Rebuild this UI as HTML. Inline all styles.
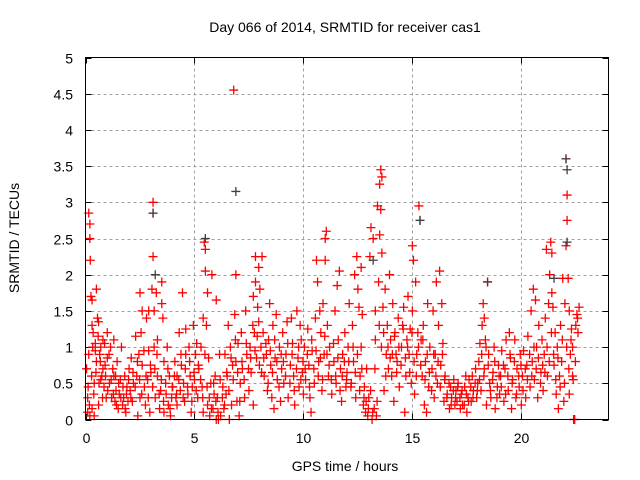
<!DOCTYPE html>
<html><head><meta charset="utf-8"><style>
body{margin:0;background:#fff}
svg{display:block}
text{font-family:"Liberation Sans",sans-serif;font-size:14px;fill:#000}
</style></head><body>
<svg id="chart" width="640" height="480" viewBox="0 0 640 480" xmlns="http://www.w3.org/2000/svg">
<rect width="640" height="480" fill="#fff"/>
<g id="grid"></g>
<g id="ticks"></g>
<g id="marks"></g>
<rect x="85.5" y="57.5" width="523" height="362" fill="none" stroke="#000" stroke-width="1"/>
<text x="345" y="32" text-anchor="middle">Day 066 of 2014, SRMTID for receiver cas1</text>
<text x="345" y="471" text-anchor="middle">GPS time / hours</text>
<text x="19" y="238" text-anchor="middle" transform="rotate(-90 19 238)">SRMTID / TECUs</text>
</svg>
<script>
const xTicks=[0,5,10,15,20];
const yTicks=[0,0.5,1,1.5,2,2.5,3,3.5,4,4.5,5];
const yTickLabels=["0","0.5","1","1.5","2","2.5","3","3.5","4","4.5","5"];
const redT=[0.05,0.1,0.1,0.15,0.15,0.2,0.2,0.22,0.25,0.3,0.3,0.35,0.4,0.4,0.45,0.5,0.5,0.55,0.6,0.6,0.65,0.7,0.75,0.8,0.85,0.9,0.95,1.0,1.0,0.3,0.2,0.45,0.7,0.8,
1.1,1.15,1.2,1.25,1.3,1.35,1.4,1.45,1.5,1.55,1.6,1.7,1.75,1.8,1.85,1.9,1.95,2.0,1.65,1.3,
2.05,2.1,2.15,2.2,2.3,2.35,2.4,2.45,2.5,2.55,2.6,2.7,2.75,2.8,2.85,2.9,2.95,2.5,2.6,2.9,
3.0,3.05,3.1,3.1,3.1,3.15,3.15,3.2,3.25,3.3,3.3,3.4,3.45,3.5,3.55,3.6,3.6,3.7,3.75,3.8,3.85,3.9,3.95,3.5,
4.0,4.1,4.15,4.2,4.3,4.35,4.4,4.45,4.5,4.55,4.6,4.7,4.75,4.8,4.85,4.9,4.95,4.6,4.2,
5.0,5.05,5.1,5.15,5.2,5.3,5.35,5.4,5.45,5.5,5.5,5.55,5.6,5.65,5.7,5.75,5.8,5.85,5.9,6.0,6.0,5.6,5.4,5.95,
6.05,6.1,6.15,6.2,6.3,6.35,6.4,6.5,6.55,6.6,6.65,6.7,6.75,6.8,6.85,6.9,6.95,7.0,6.9,6.45,
7.05,7.1,7.15,7.2,7.3,7.35,7.4,7.5,7.55,7.6,7.7,7.75,7.8,7.8,7.85,7.9,7.95,8.0,7.95,7.7,
8.05,8.1,8.15,8.2,8.3,8.35,8.4,8.5,8.55,8.6,8.7,8.75,8.8,8.9,8.95,9.0,8.45,8.65,
9.05,9.1,9.2,9.25,9.3,9.4,9.5,9.55,9.6,9.7,9.75,9.8,9.9,9.95,10.0,9.45,9.85,
10.05,10.1,10.2,10.25,10.3,10.4,10.5,10.55,10.6,10.65,10.7,10.8,10.85,10.9,10.95,11.0,11.05,11.0,10.75,10.35,
11.1,11.15,11.2,11.3,11.4,11.45,11.5,11.6,11.7,11.75,11.8,11.9,11.95,12.0,11.55,11.65,
12.05,12.1,12.2,12.25,12.3,12.35,12.4,12.5,12.55,12.6,12.65,12.7,12.75,12.8,12.85,12.9,12.95,13.0,12.45,12.65,
13.05,13.1,13.15,13.2,13.25,13.3,13.35,13.4,13.45,13.5,13.55,13.6,13.55,13.6,13.65,13.7,13.75,13.8,13.85,13.9,13.95,14.0,13.3,13.5,
14.05,14.1,14.15,14.2,14.3,14.35,14.4,14.5,14.55,14.6,14.7,14.75,14.8,14.85,14.9,14.95,15.0,15.0,15.05,14.65,14.25,
15.1,15.15,15.2,15.3,15.35,15.4,15.45,15.5,15.55,15.6,15.7,15.75,15.8,15.9,15.95,16.0,15.25,15.65,
16.05,16.1,16.15,16.2,16.25,16.3,16.4,16.45,16.5,16.6,16.7,16.75,16.8,16.9,16.95,17.0,16.35,
17.05,17.1,17.2,17.25,17.3,17.4,17.5,17.55,17.6,17.7,17.75,17.8,17.9,17.95,18.0,17.45,
18.05,18.1,18.15,18.2,18.25,18.3,18.35,18.4,18.5,18.55,18.6,18.7,18.75,18.8,18.9,18.95,19.0,18.45,18.3,
19.05,19.1,19.2,19.25,19.3,19.4,19.5,19.55,19.6,19.7,19.75,19.8,19.9,19.95,20.0,19.45,
20.05,20.1,20.2,20.25,20.3,20.4,20.45,20.5,20.55,20.6,20.7,20.75,20.8,20.9,20.95,21.0,20.65,
21.05,21.1,21.15,21.2,21.25,21.3,21.35,21.4,21.45,21.5,21.55,21.6,21.65,21.7,21.75,21.8,21.85,21.9,21.95,22.0,21.4,
22.05,22.1,22.1,22.05,22.15,22.2,22.25,22.3,22.35,22.4,22.45,22.5,22.55,22.6,22.65,22.35,22.2];
const redV=[0.7,0.1,0.3,0.9,2.85,2.7,2.5,2.2,1.7,1.65,1.3,1.2,0.05,0.5,1.05,0.8,1.8,1.4,1.35,0.2,0.9,1.0,0.6,1.1,0.45,0.75,0.3,1.2,0.85,0.15,0.05,0.95,0.55,0.7,
0.5,1.0,0.3,0.7,1.1,0.25,0.4,0.8,0.15,0.35,0.55,0.2,0.3,0.6,0.1,0.45,0.25,0.7,1.0,0.6,
0.4,0.85,0.25,0.5,1.15,0.6,0.05,0.9,0.3,1.2,0.75,0.45,0.2,1.4,0.55,0.95,0.1,1.75,1.5,1.5,
0.65,1.8,3.0,2.85,2.25,1.5,1.0,0.3,1.75,1.1,0.6,0.15,0.4,1.9,1.4,0.8,0.1,0.35,1.0,0.2,0.6,0.05,0.3,1.6,
0.45,0.8,0.3,0.6,1.2,0.4,0.75,1.75,0.5,0.25,0.9,0.35,1.0,0.6,0.1,0.45,1.3,1.25,0.2,
0.55,0.9,1.05,0.3,0.7,1.0,0.45,1.4,2.45,2.35,2.05,1.3,0.2,0.85,0.05,0.5,2.0,0.15,0.35,0.0,1.65,1.75,0.1,0.6,
0.3,0.0,0.9,0.05,0.45,0.15,0.9,0.6,1.3,0.0,1.0,0.2,0.75,4.55,1.45,0.8,0.25,1.05,2.0,0.35,
0.05,0.5,1.2,0.7,0.3,1.5,0.9,0.4,1.0,0.65,1.7,1.2,2.25,1.9,0.85,1.55,1.35,1.8,2.1,0.2,
1.0,2.25,1.2,0.6,0.9,0.4,1.1,0.75,0.3,1.3,0.85,1.45,0.55,1.0,0.25,0.7,1.6,0.15,
1.2,0.5,0.9,1.35,0.3,0.75,1.05,0.6,0.2,1.5,0.85,0.45,1.1,0.65,0.35,1.4,1.3,
1.0,0.55,1.25,0.75,0.3,0.95,0.5,1.4,2.2,1.9,0.8,1.2,0.4,1.6,0.9,2.5,2.6,2.2,1.5,0.1,
1.3,0.6,1.0,0.35,0.8,1.5,0.5,1.1,0.7,0.25,0.9,1.2,0.45,0.65,1.85,2.05,
1.0,1.6,0.5,1.3,0.8,2.0,0.3,1.8,1.55,0.6,1.0,1.45,0.2,0.45,0.1,0.7,0.05,0.3,2.25,2.1,
2.25,2.65,0.0,2.5,0.15,1.5,0.05,2.95,1.9,3.25,3.45,3.35,2.9,2.3,1.55,0.4,1.8,0.9,1.3,0.7,2.0,1.1,1.1,2.55,
0.6,1.6,0.25,1.2,0.8,1.4,0.45,1.0,1.3,1.55,0.6,1.1,1.7,0.9,1.25,0.5,1.5,2.4,2.2,0.1,0.9,
0.35,1.9,0.9,2.95,2.75,1.1,0.6,1.3,0.2,0.8,1.6,0.45,1.0,0.7,1.5,0.3,1.2,0.1,
0.9,1.9,0.5,1.3,2.05,0.75,1.05,0.25,0.6,0.35,0.15,0.45,0.3,0.55,0.2,0.4,1.6,
0.25,0.5,0.15,0.35,0.2,0.45,0.1,0.3,0.55,0.25,0.6,0.4,0.7,0.3,0.5,0.6,
0.8,1.05,0.4,1.3,1.6,0.7,1.1,0.2,0.9,0.5,0.3,0.65,1.0,0.15,0.45,0.75,0.35,1.9,1.4,
0.6,0.95,0.25,0.7,1.1,0.4,0.85,0.15,0.55,1.1,0.3,0.7,0.45,0.9,0.2,1.2,
0.6,0.95,0.3,0.75,1.15,0.45,1.5,0.8,1.8,0.55,1.0,0.3,1.3,0.65,1.1,0.4,1.65,
0.9,1.4,2.35,0.6,1.6,2.0,2.45,2.3,1.55,0.75,1.2,0.35,1.0,0.15,0.6,1.3,0.8,1.95,0.25,1.6,1.75,
3.6,3.1,2.75,2.4,1.95,1.5,0.9,1.25,0.6,0.0,0.0,1.3,1.45,1.2,1.55,1.0,0.35];
const extraT=[0.12,0.18,0.28,0.33,0.38,0.48,0.58,0.62,0.68,0.78,0.88,0.92,1.02,1.08,1.18,1.28,1.38,1.42,1.52,1.62,1.72,1.82,1.88,1.98,2.08,2.18,2.28,2.38,2.48,2.58,2.68,2.78,2.88,2.98,
3.08,3.18,3.28,3.38,3.48,3.58,3.68,3.78,3.88,3.98,4.08,4.18,4.28,4.38,4.48,4.58,4.68,4.78,4.88,4.98,
5.08,5.18,5.28,5.38,5.48,5.58,5.68,5.78,5.88,5.98,6.08,6.18,6.28,6.38,6.48,6.58,6.68,6.78,6.88,6.98,
7.08,7.18,7.28,7.38,7.48,7.58,7.68,7.78,7.88,7.98,8.08,8.18,8.28,8.38,8.48,8.58,8.68,8.78,8.88,8.98,
9.08,9.18,9.28,9.38,9.48,9.58,9.68,9.78,9.88,9.98,10.08,10.18,10.28,10.38,10.48,10.58,10.68,10.78,10.88,10.98,
11.08,11.18,11.28,11.38,11.48,11.58,11.68,11.78,11.88,11.98,12.08,12.18,12.28,12.38,12.48,12.58,12.68,12.78,12.88,12.98,
13.08,13.18,13.28,13.38,13.48,13.58,13.68,13.78,13.88,13.98,14.08,14.18,14.28,14.38,14.48,14.58,14.68,14.78,14.88,14.98,
15.08,15.18,15.28,15.38,15.48,15.58,15.68,15.78,15.88,15.98,16.08,16.18,16.28,16.38,16.48,16.58,16.68,16.78,16.88,16.98,
17.08,17.18,17.28,17.38,17.48,17.58,17.68,17.78,17.88,17.98,18.08,18.18,18.28,18.38,18.48,18.58,18.68,18.78,18.88,18.98,
19.08,19.18,19.28,19.38,19.48,19.58,19.68,19.78,19.88,19.98,20.08,20.18,20.28,20.38,20.48,20.58,20.68,20.78,20.88,20.98,
21.08,21.18,21.28,21.38,21.48,21.58,21.68,21.78,21.88,21.98,22.08,22.18,22.28,22.38,22.48,22.58];
const extraV=[0.45,0.2,0.6,1.0,0.35,0.65,1.15,0.5,0.8,0.3,1.05,0.6,0.4,0.9,0.55,0.35,0.6,0.2,0.5,0.3,0.45,0.15,0.35,0.55,0.3,0.65,0.45,0.8,0.55,0.35,0.95,0.6,0.3,0.75,
0.45,0.7,0.9,0.35,0.55,0.25,0.5,0.7,0.15,0.45,0.6,0.35,0.55,0.9,0.3,0.7,0.45,0.8,0.25,0.65,
0.4,0.75,0.55,0.3,0.9,0.45,0.3,0.15,0.5,0.25,0.1,0.55,0.3,0.2,0.65,0.4,0.85,0.55,1.1,0.65,
0.25,0.8,0.55,1.05,0.7,0.85,1.3,0.95,1.15,0.75,0.65,0.85,1.05,0.5,0.95,0.65,1.1,0.8,0.45,0.9,
0.8,0.6,1.05,0.5,0.9,0.4,0.7,1.0,0.55,0.8,0.7,0.9,0.45,1.1,0.7,0.95,0.6,0.85,0.55,1.15,
0.9,0.75,0.55,1.05,0.6,0.85,0.4,0.6,0.8,0.55,0.8,0.45,1.0,0.65,0.9,0.4,0.7,0.3,0.25,0.15,
0.4,0.1,0.7,0.25,1.3,1.0,1.2,0.6,1.0,0.85,0.9,1.15,0.65,1.0,0.75,1.25,0.85,1.0,0.65,1.2,
0.8,0.6,1.0,0.75,1.1,0.55,0.9,0.65,0.4,0.9,0.6,0.8,0.45,0.9,0.55,0.3,0.5,0.2,0.4,0.3,
0.45,0.3,0.4,0.2,0.35,0.25,0.45,0.3,0.5,0.4,0.55,0.9,0.6,1.0,0.75,0.4,0.55,0.8,0.3,0.6,
0.45,0.75,0.35,0.6,0.9,0.5,0.8,0.35,0.6,0.75,0.4,0.7,0.55,0.9,0.6,1.0,0.7,0.85,0.5,0.75,
0.65,1.0,0.8,1.2,0.9,0.55,0.85,0.45,1.1,0.5,1.0,0.7,1.1,0.55,0.8,1.4];
const darkT=[3.1,3.2,5.5,6.9,13.2,15.35,18.45,21.5,22.05,22.1,22.1];
const darkV=[2.85,2.0,2.5,3.15,2.2,2.75,1.9,1.95,3.6,3.45,2.45];

const X0=85.5,X1=608.5,Y0=419.5,Y1=57.5;
function sx(t){return X0+(t/24)*(X1-X0);}
function sy(v){return Y0-(v/5)*(Y0-Y1);}
const NS="http://www.w3.org/2000/svg";
const grid=document.getElementById('grid'),ticks=document.getElementById('ticks'),marks=document.getElementById('marks');
function mk(tag,attrs,parent){const e=document.createElementNS(NS,tag);for(const k in attrs)e.setAttribute(k,attrs[k]);parent.appendChild(e);return e;}
yTicks.forEach((v,i)=>{
  const y=Math.round(sy(v))+0.5;
  if(v>0&&v<5){const g=mk('line',{x1:X0,x2:X1,y1:y,y2:y,stroke:'#a0a0a0','stroke-dasharray':'3,3'},grid);
    
    }
  const t1=mk('line',{x1:X0,x2:X0+6,y1:y,y2:y,stroke:'#000'},ticks);
  
  
  const t2=mk('line',{x1:X1-6,x2:X1,y1:y,y2:y,stroke:'#000'},ticks);
  
  
  const l=mk('text',{x:73,y:y+5,'text-anchor':'end'},ticks);l.textContent=yTickLabels[i];
  
  
});
xTicks.forEach(t=>{
  const x=Math.round(sx(t))+0.5;
  if(t>0){const g=mk('line',{x1:x,x2:x,y1:Y0,y2:Y1,stroke:'#a0a0a0','stroke-dasharray':'3,3'},grid);
    
    }
  const t1=mk('line',{x1:x,x2:x,y1:Y0,y2:Y0-6,stroke:'#000'},ticks);
  
  
  const t2=mk('line',{x1:x,x2:x,y1:Y1,y2:Y1+6,stroke:'#000'},ticks);
  
  
  const l=mk('text',{x:x,y:443,'text-anchor':'middle'},ticks);l.textContent=String(t);
  
  
});
function plus(t,v,color,name){
  const x=sx(t),y=sy(v);
  const p=mk('path',{d:`M${x-4.5},${y}H${x+4.5}M${x},${y-4.5}V${y+4.5}`,stroke:color,'stroke-width':1.3,fill:'none'},marks);
  
  
}
redT.forEach((t,i)=>plus(t,redV[i],'#ff0000','srmtid-point'));
extraT.forEach((t,i)=>plus(t,extraV[i],'#ff0000','srmtid-point'));
darkT.forEach((t,i)=>plus(t,darkV[i],'#404040','srmtid-point-dark'));
</script>
</body></html>
